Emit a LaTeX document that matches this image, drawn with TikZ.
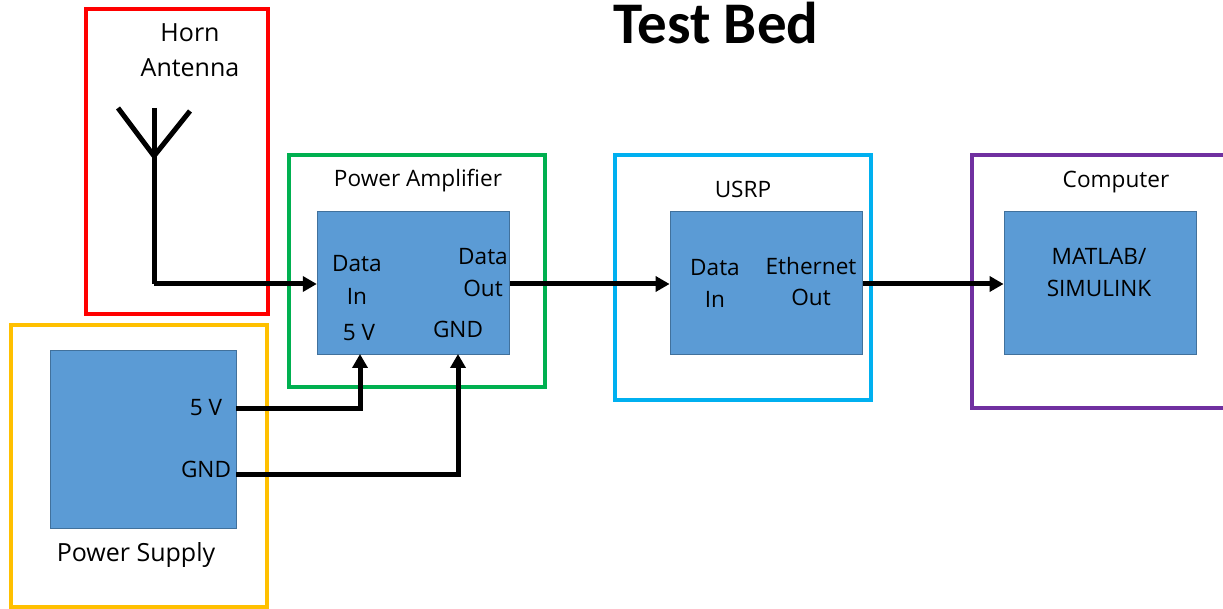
\documentclass[tikz,border=0pt]{standalone}
\usepackage{fontspec}
\setmainfont{Carlito}
\newfontfamily\lblfont{Open Sans}
\usetikzlibrary{arrows.meta}
\definecolor{bluebox}{HTML}{5B9BD5}
\definecolor{blueedge}{HTML}{41719C}
\definecolor{fr}{HTML}{FF0000}
\definecolor{fg}{HTML}{00B050}
\definecolor{fb}{HTML}{00B0F0}
\definecolor{fp}{HTML}{7030A0}
\definecolor{fy}{HTML}{FFC000}
\tikzset{x=1pt,y=-1pt,
 frame/.style={draw,line width=4.8pt,fill=none},
 block/.style={draw=blueedge,line width=1.4pt,fill=bluebox},
 wire/.style={line width=5pt,draw=black},
 arrowwire/.style={wire,-{Triangle[length=14pt,width=15pt]}},
 lbl/.style={font=\lblfont\fontsize{25}{29}\selectfont,align=center,text=black,inner sep=0pt},
 lblin/.style={font=\lblfont\fontsize{22.6}{26}\selectfont,align=center,text=black,inner sep=0pt}}
\begin{document}
\begin{tikzpicture}
\useasboundingbox (0,0) rectangle (1223,609);
\fill[white] (0,0) rectangle (1223,609);
% frames
\draw[frame,fr] (86,9) rectangle (268,314);
\draw[frame,fy] (11,325) rectangle (267,607);
\draw[frame,fg] (289,155) rectangle (545,387);
\draw[frame,fb] (615,155) rectangle (871,400);
\draw[frame,fp] (1223,155) -- (972,155) -- (972,408) -- (1223,408);
% blocks
\node[block,minimum width=186pt,minimum height=178pt,anchor=north west] (ps) at (49.6,349.6) {};
\node[block,minimum width=192pt,minimum height=143pt,anchor=north west] (pa) at (316.8,210.6) {};
\node[block,minimum width=192pt,minimum height=143pt,anchor=north west] (usrp) at (669.6,210.6) {};
\node[block,minimum width=192pt,minimum height=143pt,anchor=north west] (comp) at (1003.6,210.6) {};
% antenna
\coordinate (tip) at (154,156);
\coordinate (corner) at (154,284);
\coordinate (al) at (118,108);
\coordinate (ar) at (190,111);
\coordinate (amid) at (154,108);
\draw[wire] (al) -- (tip) -- (ar);
\draw[wire] (amid) -- (corner);
% wires
\coordinate (paIn) at (pa.west |- corner);
\coordinate (paOut) at (pa.east |- corner);
\coordinate (usIn) at (usrp.west |- corner);
\coordinate (usOut) at (usrp.east |- corner);
\coordinate (coIn) at (comp.west |- corner);
\draw[arrowwire] (corner) -- (paIn);
\draw[arrowwire] (paOut) -- (usIn);
\draw[arrowwire] (usOut) -- (coIn);
\coordinate (v5s) at (236,408);
\coordinate (v5c) at (360,408);
\coordinate (v5e) at (360,354);
\coordinate (gs) at (236,474);
\coordinate (gc) at (458,474);
\coordinate (ge) at (458,354);
\draw[arrowwire] (v5s) -- (v5c) -- (v5e);
\draw[arrowwire] (gs) -- (gc) -- (ge);
% text
\node[font=\fontsize{59}{66}\selectfont\bfseries,inner sep=0pt] (title) at (716,23) {Test Bed};
\node[lbl] (t1) at (190,33) {Horn};
\node[lbl] (t2) at (190,68) {Antenna};
\node[lblin] (t3) at (418,181) {Power Amplifier};
\node[lblin] (t4) at (743,189) {USRP};
\node[lblin] (t5) at (1116,182) {Computer};
\node[lbl] (t6) at (136,555) {Power Supply};
\node[lblin] (t7) at (357,264) {Data};
\node[lblin] (t8) at (357,296) {In};
\node[lblin] (t9) at (359,333) {5 V};
\node[lblin] (t10) at (483,257) {Data};
\node[lblin] (t11) at (483,288) {Out};
\node[lblin] (t12) at (458,329) {GND};
\node[lblin] (t13) at (715,268) {Data};
\node[lblin] (t14) at (715,299) {In};
\node[lblin] (t15) at (811,266) {Ethernet};
\node[lblin] (t16) at (811,297) {Out};
\node[lblin] (t17) at (1099,256) {MATLAB/};
\node[lblin] (t18) at (1099,288) {SIMULINK};
\node[lblin] (t19) at (206,408) {5 V};
\node[lblin] (t20) at (206,469) {GND};
\end{tikzpicture}
\end{document}
